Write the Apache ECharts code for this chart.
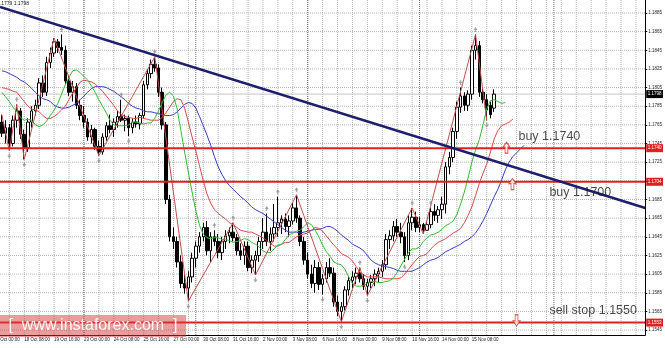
<!DOCTYPE html>
<html><head><meta charset="utf-8">
<script src="https://cdn.jsdelivr.net/npm/echarts@6/dist/echarts.min.js"></script>
<style>html,body{margin:0;padding:0;background:#fff}#c{width:665px;height:348px}</style>
</head><body><div id="c"></div>
<script>
// bar index j is counted in H4 bars from 23 Oct 00:00 (j = 0)
const firstBar = -22;
const totalBars = 173;           // visible slots incl. chart shift
// [open, close, low, high]
const candles = [
[1.1768,1.1756,1.1752,1.1776],[1.1756,1.1762,1.1745,1.1770],[1.1762,1.1745,1.1737,1.1766],[1.1745,1.1770,1.1742,1.1775],
[1.1770,1.1780,1.1762,1.1787],[1.1780,1.1755,1.1750,1.1783],[1.1755,1.1740,1.1728,1.1760],[1.1740,1.1768,1.1736,1.1772],
[1.1768,1.1780,1.1762,1.1785],[1.1780,1.1786,1.1775,1.1792],[1.1786,1.1810,1.1782,1.1815],[1.1810,1.1800,1.1795,1.1818],
[1.1800,1.1832,1.1796,1.1838],[1.1832,1.1842,1.1826,1.1848],[1.1842,1.1854,1.1838,1.1858],[1.1854,1.1848,1.1842,1.1857],
[1.1848,1.1845,1.1840,1.1862],[1.1845,1.1812,1.1808,1.1850],[1.1812,1.1800,1.1796,1.1818],[1.1800,1.1806,1.1790,1.1812],
[1.1806,1.1786,1.1782,1.1810],[1.1786,1.1775,1.1770,1.1792],
[1.1775,1.1768,1.1762,1.1785],[1.1768,1.1752,1.1748,1.1772],[1.1752,1.1760,1.1745,1.1765],[1.1760,1.1742,1.1738,1.1762],
[1.1742,1.1736,1.1732,1.1748],[1.1736,1.1752,1.1733,1.1756],[1.1752,1.1764,1.1748,1.1768],[1.1764,1.1760,1.1756,1.1776],
[1.1760,1.1768,1.1752,1.1772],[1.1768,1.1774,1.1762,1.1780],[1.1774,1.1770,1.1768,1.1792],[1.1770,1.1772,1.1758,1.1776],
[1.1772,1.1762,1.1753,1.1775],[1.1762,1.1768,1.1756,1.1772],[1.1768,1.1766,1.1762,1.1775],[1.1766,1.1775,1.1760,1.1778],
[1.1775,1.1808,1.1772,1.1812],[1.1808,1.1820,1.1803,1.1825],[1.1820,1.1830,1.1815,1.1835],[1.1830,1.1826,1.1822,1.1838],
[1.1826,1.1800,1.1795,1.1830],[1.1800,1.1765,1.1760,1.1805],[1.1765,1.1685,1.1680,1.1768],[1.1685,1.1645,1.1640,1.1690],
[1.1645,1.1640,1.1632,1.1655],[1.1640,1.1618,1.1612,1.1645],[1.1618,1.1595,1.1590,1.1625],[1.1595,1.1590,1.1584,1.1605],
[1.1590,1.1602,1.1576,1.1608],[1.1602,1.1622,1.1596,1.1628],[1.1622,1.1635,1.1612,1.1640],[1.1635,1.1645,1.1628,1.1650],
[1.1645,1.1655,1.1640,1.1660],[1.1655,1.1630,1.1625,1.1662],[1.1630,1.1645,1.1618,1.1650],[1.1645,1.1640,1.1635,1.1652],
[1.1640,1.1628,1.1622,1.1648],[1.1628,1.1640,1.1620,1.1645],[1.1640,1.1646,1.1632,1.1652],[1.1646,1.1650,1.1638,1.1655],
[1.1650,1.1644,1.1640,1.1660],[1.1644,1.1630,1.1625,1.1648],[1.1630,1.1625,1.1620,1.1638],[1.1625,1.1635,1.1615,1.1640],
[1.1635,1.1612,1.1608,1.1640],[1.1612,1.1620,1.1606,1.1625],[1.1620,1.1625,1.1604,1.1630],[1.1625,1.1640,1.1618,1.1645],
[1.1640,1.1650,1.1632,1.1665],[1.1650,1.1640,1.1635,1.1670],[1.1640,1.1648,1.1630,1.1655],[1.1648,1.1655,1.1640,1.1680],
[1.1655,1.1660,1.1645,1.1688],[1.1660,1.1664,1.1648,1.1668],[1.1664,1.1656,1.1650,1.1670],[1.1656,1.1662,1.1645,1.1668],
[1.1662,1.1676,1.1658,1.1682],[1.1676,1.1665,1.1660,1.1690],[1.1665,1.1640,1.1635,1.1668],[1.1640,1.1620,1.1615,1.1645],
[1.1620,1.1605,1.1600,1.1628],[1.1605,1.1595,1.1590,1.1615],[1.1595,1.1612,1.1585,1.1620],[1.1612,1.1594,1.1588,1.1618],
[1.1594,1.1600,1.1583,1.1605],[1.1600,1.1612,1.1596,1.1618],[1.1612,1.1606,1.1602,1.1622],[1.1606,1.1575,1.1570,1.1612],
[1.1575,1.1565,1.1560,1.1582],[1.1565,1.1570,1.1554,1.1575],[1.1570,1.1588,1.1566,1.1592],[1.1588,1.1598,1.1582,1.1602],
[1.1598,1.1602,1.1590,1.1608],[1.1602,1.1606,1.1594,1.1612],[1.1606,1.1600,1.1596,1.1612],[1.1600,1.1592,1.1588,1.1605],
[1.1592,1.1596,1.1582,1.1600],[1.1596,1.1600,1.1590,1.1604],[1.1600,1.1605,1.1592,1.1610],[1.1605,1.1608,1.1596,1.1612],
[1.1608,1.1615,1.1602,1.1620],[1.1615,1.1642,1.1610,1.1648],[1.1642,1.1646,1.1632,1.1652],[1.1646,1.1656,1.1640,1.1662],
[1.1656,1.1650,1.1645,1.1664],[1.1650,1.1645,1.1638,1.1660],[1.1645,1.1625,1.1618,1.1650],[1.1625,1.1660,1.1620,1.1668],
[1.1660,1.1666,1.1652,1.1676],[1.1666,1.1655,1.1650,1.1672],[1.1655,1.1658,1.1650,1.1666],[1.1658,1.1652,1.1648,1.1660],
[1.1652,1.1658,1.1652,1.1662],[1.1658,1.1672,1.1654,1.1676],[1.1672,1.1668,1.1662,1.1680],[1.1668,1.1674,1.1660,1.1678],
[1.1674,1.1680,1.1664,1.1688],[1.1680,1.1720,1.1670,1.1725],[1.1720,1.1730,1.1712,1.1736],[1.1730,1.1758,1.1725,1.1762],
[1.1758,1.1784,1.1750,1.1790],[1.1784,1.1796,1.1778,1.1805],[1.1796,1.1786,1.1780,1.1800],[1.1786,1.1798,1.1780,1.1802],
[1.1798,1.1845,1.1792,1.1850],[1.1845,1.1850,1.1835,1.1862],[1.1850,1.1800,1.1795,1.1855],[1.1800,1.1792,1.1788,1.1805],
[1.1792,1.1781,1.1770,1.1798],[1.1786,1.1776,1.1772,1.1790],[1.1783,1.1798,1.1779,1.1803]
];
// Alligator lines (green lips, red teeth, blue jaw), values start at j = -22
const lips = [1.1800,1.1795,1.1790,1.1784,1.1779,1.1773,1.1770,1.1771,1.1770,1.1765,1.1763,1.1765,1.1769,1.1775,1.1781,1.1788,1.1798,1.1808,1.1816,1.1823,1.1824,1.1821,
1.1817,1.1813,1.1807,1.1800,1.1792,1.1785,1.1778,1.1770,1.1765,1.1764,
1.1764,1.1764,1.1765,1.1768,1.1768,1.1767,1.1766,1.1767,1.1767,1.1772,
1.1780,1.1789,1.1797,1.1800,1.1796,1.1782,1.1759,1.1736,1.1714,1.1693,
1.1673,1.1657,1.1648,1.1644,1.1643,1.1644,1.1644,1.1642,1.1642,1.1641,
1.1639,1.1640,1.1641,1.1643,1.1642,1.1639,1.1637,1.1634,1.1630,1.1628,
1.1628,1.1632,1.1636,1.1637,1.1642,1.1647,1.1649,1.1651,1.1652,1.1656,
1.1660,1.1658,1.1652,1.1645,1.1636,1.1629,1.1624,1.1618,1.1616,1.1615,
1.1610,1.1602,1.1595,1.1592,1.1592,1.1593,1.1595,1.1597,1.1597,1.1596,
1.1596,1.1597,1.1598,1.1601,1.1607,1.1614,1.1621,1.1628,1.1632,1.1632,
1.1634,1.1640,1.1644,1.1647,1.1648,1.1650,1.1653,1.1657,1.1659,1.1662,
1.1669,1.1680,1.1693,1.1708,1.1725,1.1738,1.1749,1.1765,1.1782,1.1791,
1.1792,1.1790,1.1788,1.1789];
const teeth = [1.1805,1.1804,1.1803,1.1801,1.1800,
1.1795,1.1790,1.1785,1.1782,1.1781,1.1779,1.1775,1.1772,1.1772,1.1774,1.1777,1.1781,1.1785,1.1792,1.1799,1.1805,1.1811,
1.1813,1.1812,1.1811,1.1809,1.1805,1.1801,1.1796,1.1791,1.1786,1.1780,
1.1776,1.1774,1.1773,1.1772,1.1772,1.1773,1.1772,1.1771,1.1770,1.1770,
1.1770,1.1773,1.1778,1.1784,1.1790,1.1793,1.1792,1.1783,1.1768,1.1752,
1.1737,1.1721,1.1705,1.1691,1.1681,1.1674,1.1670,1.1667,1.1664,1.1660,
1.1658,1.1655,1.1652,1.1651,1.1650,1.1650,1.1648,1.1646,1.1644,1.1641,
1.1638,1.1635,1.1635,1.1637,1.1639,1.1639,1.1642,1.1645,1.1647,1.1648,
1.1649,1.1652,1.1655,1.1654,1.1651,1.1646,1.1641,1.1636,1.1632,1.1627,
1.1625,1.1623,1.1619,1.1613,1.1607,1.1604,1.1602,1.1602,1.1602,1.1602,
1.1601,1.1600,1.1600,1.1600,1.1600,1.1601,1.1605,1.1610,1.1615,1.1620,
1.1624,1.1625,1.1627,1.1632,1.1636,1.1639,1.1641,1.1643,1.1646,1.1649,
1.1651,1.1654,1.1660,1.1668,1.1677,1.1689,1.1702,1.1713,1.1723,1.1736,
1.1750,1.1759,1.1764,1.1766,1.1768,1.1771];
const jaw = [1.1823,1.1822,1.1820,1.1818,1.1816,1.1813,1.1811,1.1808,
1.1804,1.1800,1.1796,1.1793,1.1792,1.1790,1.1786,1.1784,1.1783,1.1783,1.1784,1.1786,1.1788,1.1792,
1.1796,1.1800,1.1804,1.1806,1.1806,1.1806,1.1805,1.1803,1.1801,1.1798,
1.1795,1.1792,1.1788,1.1785,1.1783,1.1782,1.1780,1.1779,1.1779,1.1778,
1.1777,1.1776,1.1775,1.1775,1.1776,1.1779,1.1783,1.1787,1.1789,1.1788,
1.1783,1.1774,1.1764,1.1754,1.1743,1.1731,1.1720,1.1712,1.1705,1.1700,
1.1696,1.1692,1.1688,1.1685,1.1681,1.1677,1.1674,1.1672,1.1670,1.1667,
1.1664,1.1661,1.1658,1.1655,1.1652,1.1650,1.1650,1.1650,1.1649,1.1650,
1.1651,1.1652,1.1653,1.1653,1.1654,1.1656,1.1656,1.1654,1.1651,1.1647,
1.1644,1.1641,1.1637,1.1635,1.1633,1.1630,1.1625,1.1620,1.1617,1.1615,
1.1614,1.1613,1.1612,1.1611,1.1609,1.1608,1.1608,1.1608,1.1608,1.1610,
1.1612,1.1615,1.1618,1.1620,1.1621,1.1623,1.1626,1.1629,1.1631,1.1633,
1.1635,1.1637,1.1640,1.1642,1.1645,1.1649,1.1655,1.1662,1.1670,1.1679,
1.1688,1.1696,1.1706,1.1717,1.1725,1.1731,1.1735,1.1739,1.1743];
// ZigZag turning points [bar, price]
const zigzag = [[-22,1.1776],[-20,1.1737],[-18,1.1787],[-16,1.1728],[-8,1.1858],[4,1.1732],[19,1.1838],[28,1.1576],
[40,1.1660],[46,1.1604],[57,1.1690],[69,1.1554],[74,1.1612],[76,1.1582],[88,1.1676],[91,1.1648],[105,1.1862],[108,1.1770]];
const fractalsUp = [-18,-6,10,19,35,40,49,52,57,74,88,93,101,105];
const fractalsDown = [-20,-16,4,12,28,46,64,69,76,86,108];
const xTickBars = [-16,-8,0,8,16,24,32,40,48,56,64,72,80,88,96,104];
const xTickLabels = ["18 Oct 08:00","19 Oct 16:00","23 Oct 00:00","24 Oct 08:00","25 Oct 16:00","27 Oct 00:00",
"30 Oct 08:00","31 Oct 16:00","2 Nov 00:00","3 Nov 08:00","6 Nov 16:00","8 Nov 00:00","9 Nov 08:00",
"10 Nov 16:00","14 Nov 00:00","15 Nov 08:00"];
const firstTickLabel = "17 Oct 00:00";
const yTicks = [1.1545,1.1565,1.1585,1.1605,1.1625,1.1645,1.1665,1.1685,1.1705,1.1725,1.1745,1.1765,1.1785,1.1805,1.1825,1.1845,1.1865,1.1885];
const yMin = 1.15397, yMax = 1.18989;
const levels = [1.1740, 1.1704, 1.1553];
const levelLabels = ["1.1740","1.1704","1.1553"];
const lastPrice = 1.1798;
const trendline = [[-22.5,1.18914],[150.5,1.16759]];
const weekSeparators = [0,30,60,90,126];
const upArrows = [[113.3,1.17405],[114.9,1.17016]];
const downArrows = [[116,1.15553]];
const noteTexts = ["buy 1.1740","buy 1.1700","sell stop 1.1550"];
const notePos = [[116.5,1.1752],[124.8,1.1692],[124.8,1.15654]];

const chart = echarts.init(document.getElementById('c'), null, {renderer:'canvas'});
const cats = Array.from({length: totalBars}, (_, k) => String(k + firstBar));
const tickMap = {}; xTickBars.forEach((b, i) => tickMap[b] = xTickLabels[i]);
const toPairs = arr => arr.map((v, i) => [i + firstBar, v]);
const xLo = firstBar - 0.5, xHi = firstBar + totalBars - 0.5;
const FONT = 'Liberation Sans';
const upPath = 'path://M5,0 L10,5 L7,5 L7,11 L3,11 L3,5 L0,5 Z';
const downPath = 'path://M3,0 L7,0 L7,6 L10,6 L5,11 L0,6 L3,6 Z';
const smallUp = 'path://M2,0 L4,3 L2.6,3 L2.6,5 L1.4,5 L1.4,3 L0,3 Z';
const smallDown = 'path://M1.4,0 L2.6,0 L2.6,2 L4,2 L2,5 L0,2 L1.4,2 Z';
// each grid line is its own two-point line series
const segSeries = (pts, color, z) => ({type: 'line', xAxisIndex: 1, data: pts, z: z, zlevel: 0, silent: true,
  showSymbol: false, animation: false, lineStyle: {color: color, width: 1, type: 'dotted'}});
const gridSeries = [];
yTicks.forEach(v => gridSeries.push(segSeries([[xLo, v], [xHi, v]], '#b4b4b4', 2)));
for (let j = -20; j <= 150; j += 4) gridSeries.push(segSeries([[j, yMin], [j, yMax]], '#b4b4b4', 2));
weekSeparators.forEach(j => gridSeries.push(segSeries([[j, yMin], [j, yMax]], '#707070', 2)));
const levelLine = (v, color, width, z, lbl, bg) => ({type: 'line', xAxisIndex: 1, z: z, silent: true, showSymbol: false,
  data: [[xLo, v], [xHi, v]], lineStyle: {color: color, width: width},
  endLabel: {show: true, formatter: lbl, distance: 1, backgroundColor: bg, color: '#fff', fontSize: 4.5, padding: [1.5, 1.5], fontFamily: FONT}});

const option = {
  animation: false,
  backgroundColor: '#ffffff',
  grid: {left: 0, right: 19, top: 0, bottom: 13, containLabel: false},
  xAxis: [
    {type: 'category', data: cats, boundaryGap: true,
     axisLine: {show: true, onZero: false, lineStyle: {color: '#000', width: 1}},
     axisTick: {show: false}, splitLine: {show: false},
     axisLabel: {show: true, interval: (idx) => tickMap[idx + firstBar] !== undefined,
       formatter: (v, idx) => tickMap[idx + firstBar] || '', align: 'left', margin: 2,
       fontSize: 4.5, color: '#222', fontFamily: FONT}},
    {type: 'value', min: xLo, max: xHi, show: false}
  ],
  yAxis: [{type: 'value', position: 'right', min: yMin, max: yMax,
    axisLine: {show: true, onZero: false, lineStyle: {color: '#000', width: 1}},
    axisTick: {show: true, length: 2, customValues: yTicks, lineStyle: {color: '#000'}},
    splitLine: {show: false},
    axisLabel: {customValues: yTicks, formatter: v => v.toFixed(4), fontSize: 4.5, color: '#222', margin: 3, fontFamily: FONT}}],
  graphic: [
    {type: 'text', x: -3, y: 1, z: 100, style: {text: '1.1779 1.1798', fill: '#222', font: '5px "Liberation Sans"'}},
    {type: 'text', x: -6, y: 337, z: 100, style: {text: firstTickLabel, fill: '#222', font: '4.5px "Liberation Sans"'}},
    {type: 'rect', z: 100, shape: {x: 0, y: 315, width: 186, height: 22}, style: {fill: 'rgba(215,60,60,0.5)'}},
    {type: 'text', z: 101, x: 93, y: 326, style: {text: '[  www.instaforex.com  ]', fill: 'rgba(255,255,255,0.92)', font: '16px "Liberation Sans"', align: 'center', verticalAlign: 'middle'}}
  ],
  series: gridSeries.concat([
    levelLine(lastPrice, '#c4c4c4', 1, 3, lastPrice.toFixed(4), '#000'),
    {type: 'candlestick', xAxisIndex: 0, data: candles, barWidth: 3, z: 4,
     itemStyle: {color: '#ffffff', color0: '#000000', borderColor: '#000000', borderColor0: '#000000', borderWidth: 1}},
    {type: 'line', xAxisIndex: 1, data: toPairs(jaw), showSymbol: false, z: 5, lineStyle: {color: '#3a3ad0', width: 1}},
    {type: 'line', xAxisIndex: 1, data: toPairs(teeth), showSymbol: false, z: 5, lineStyle: {color: '#e04848', width: 1}},
    {type: 'line', xAxisIndex: 1, data: toPairs(lips), showSymbol: false, z: 5, lineStyle: {color: '#2fbf2f', width: 1}},
    {type: 'line', xAxisIndex: 1, data: zigzag, showSymbol: false, z: 5, lineStyle: {color: '#c0504a', width: 1}},
    {type: 'scatter', xAxisIndex: 1, z: 5, symbol: smallUp, symbolSize: [4, 5], symbolOffset: [0, -5],
     itemStyle: {color: '#8c8c8c'}, data: fractalsUp.map(j => [j, candles[j - firstBar][3]])},
    {type: 'scatter', xAxisIndex: 1, z: 5, symbol: smallDown, symbolSize: [4, 5], symbolOffset: [0, 5],
     itemStyle: {color: '#8c8c8c'}, data: fractalsDown.map(j => [j, candles[j - firstBar][2]])}
  ], levels.map((v, i) => levelLine(v, '#e0201e', 2, 6, levelLabels[i], '#e0201e')), [
    {type: 'line', xAxisIndex: 1, data: trendline, showSymbol: false, z: 7, lineStyle: {color: '#1e1e6e', width: 2.5}},
    {type: 'scatter', xAxisIndex: 1, z: 8, symbol: upPath, symbolSize: [7, 11],
     itemStyle: {color: '#fff', borderColor: '#e0201e', borderWidth: 1}, data: upArrows},
    {type: 'scatter', xAxisIndex: 1, z: 8, symbol: downPath, symbolSize: [7, 11],
     itemStyle: {color: '#fff', borderColor: '#e0201e', borderWidth: 1}, data: downArrows},
    {type: 'scatter', xAxisIndex: 1, z: 9, symbolSize: 0,
     label: {show: true, position: 'right', distance: 0, formatter: p => noteTexts[p.dataIndex], fontSize: 12.5, color: '#1a1a1a', fontFamily: FONT},
     data: notePos}
  ])
};
chart.setOption(option);
</script></body></html>
